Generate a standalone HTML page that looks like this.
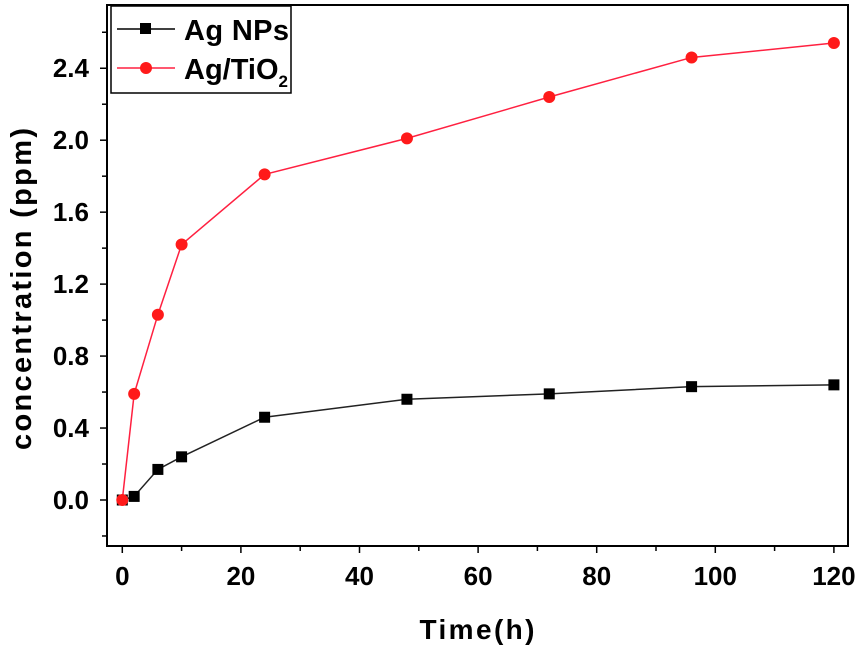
<!DOCTYPE html>
<html><head><meta charset="utf-8"><style>
body{margin:0;background:#fff;}
svg{display:block;font-family:"Liberation Sans",Arial,sans-serif;font-weight:bold;}
</style></head><body>
<svg id="chart" width="863" height="651" viewBox="0 0 863 651" xmlns="http://www.w3.org/2000/svg">
<g id="axes"></g><g id="series"></g>
<g>
<rect x="111" y="6" width="180" height="87" fill="#fff" stroke="#000" stroke-width="1.5"/>
<line x1="117" y1="29" x2="175" y2="29" stroke="#000" stroke-width="1.5"/>
<rect x="140" y="23" width="11" height="11" fill="#000"/>
<text x="184" y="40" font-size="29" textLength="105" fill="#000">Ag NPs</text>
<line x1="117" y1="68" x2="175" y2="68" stroke="#ff2040" stroke-width="1.5"/>
<circle cx="146" cy="68" r="6" fill="#ff1a1a"/>
<text x="184" y="79" font-size="29" fill="#000">Ag/TiO<tspan font-size="17" dy="8">2</tspan></text>
</g>
<text x="477" y="639" font-size="28" text-anchor="middle" textLength="115">Time(h)</text>
<text transform="translate(31,289) rotate(-90)" font-size="29" text-anchor="middle" textLength="322">concentration (ppm)</text>
</svg>
<script>
const times=[0,2,6,10,24,48,72,96,120];
const agNPs=[0,0.02,0.17,0.24,0.46,0.56,0.59,0.63,0.64];
const agTiO2=[0,0.59,1.03,1.42,1.81,2.01,2.24,2.46,2.54];
const xTicks=[0,20,40,60,80,100,120];
const yTicks=["0.0","0.4","0.8","1.2","1.6","2.0","2.4"];
const NS="http://www.w3.org/2000/svg";
const X=v=>122.3+v*5.93;
const Y=v=>500-v*179.9;
const L=107,R=848,T=5,B=546;
function mk(t,a,p){const e=document.createElementNS(NS,t);for(const k in a)e.setAttribute(k,a[k]);p.appendChild(e);return e;}
const ax=document.getElementById('axes');
const f=mk('rect',{x:L,y:T,width:R-L,height:B-T,fill:'none',stroke:'#000','stroke-width':2},ax);


for(let v=-10;v<=120;v+=10){const x=X(v);if(x<L)continue;const big=v%20===0;mk('line',{x1:x,y1:B,x2:x,y2:B+(big?7:5),stroke:'#000','stroke-width':1.5},ax);}
xTicks.forEach(v=>{const t=mk('text',{x:X(v),y:B+39,'font-size':26,'text-anchor':'middle'},ax);t.textContent=v;

});
for(let v=-0.2;v<=2.61;v+=0.2){const y=Y(v);if(y>B||y<T)continue;const big=Math.round(v*10)%4===0;mk('line',{x1:L,y1:y,x2:L-(big?7:5),y2:y,stroke:'#000','stroke-width':1.5},ax);}
yTicks.forEach(s=>{const t=mk('text',{x:89,y:Y(parseFloat(s))+9,'font-size':26,'text-anchor':'end'},ax);t.textContent=s;

});
const sg=document.getElementById('series');
function series(vals,color,lc,shape,name){
 const pl=mk('polyline',{points:times.map((t,i)=>X(t)+','+Y(vals[i])).join(' '),fill:'none',stroke:lc,'stroke-width':1.5},sg);
 
 
 times.forEach((t,i)=>{let m;
  if(shape==='sq')m=mk('rect',{x:X(t)-5.5,y:Y(vals[i])-5.5,width:11,height:11,fill:color},sg);
  else m=mk('circle',{cx:X(t),cy:Y(vals[i]),r:6,fill:color},sg);
  
  });
}
series(agNPs,'#000','#222','sq','ag-nps');
series(agTiO2,'#ff1a1a','#ff2040','c','ag-tio2');
</script>
</body></html>
